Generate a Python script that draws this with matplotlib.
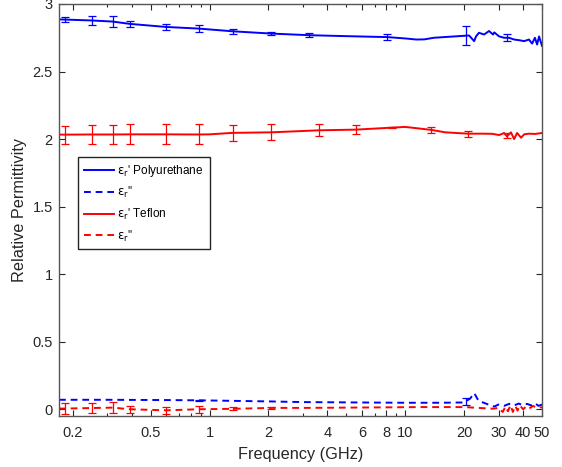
import matplotlib
matplotlib.use("Agg")
import matplotlib.pyplot as plt
from matplotlib.ticker import FixedLocator, NullFormatter

plt.rcParams['font.family'] = ['Liberation Sans', 'DejaVu Sans']
plt.rcParams['mathtext.fontset'] = 'dejavusans'

# ---- data: Polyurethane eps' ----
pu_f = [0.17, 0.18, 0.25, 0.32, 0.39, 0.6, 0.88, 1.31, 2.07, 3.24, 5.0, 8.1, 10.0, 11.4, 12.5,
        14.0, 17.0, 21.2, 22.5, 23.0, 23.8, 25.3, 26.8, 28.1, 28.5, 30.2, 32.0, 33.9, 36.0,
        38.2, 40.5, 42.9, 44.5, 46.0, 47.2, 48.3, 50.0]
pu_e1 = [2.886, 2.885, 2.878, 2.87, 2.853, 2.83, 2.818, 2.798, 2.781, 2.769, 2.762, 2.755, 2.745,
         2.737, 2.738, 2.75, 2.758, 2.767, 2.725, 2.76, 2.787, 2.774, 2.80, 2.774, 2.79, 2.76,
         2.75, 2.75, 2.737, 2.732, 2.725, 2.737, 2.707, 2.75, 2.70, 2.76, 2.69]
pu_err_f = [0.182, 0.25, 0.32, 0.39, 0.6, 0.88, 1.31, 2.07, 3.24, 8.1, 20.5, 33.1]
pu_err_y = [2.885, 2.878, 2.87, 2.853, 2.83, 2.818, 2.798, 2.781, 2.769, 2.755, 2.767, 2.75]
pu_err = [0.02, 0.03, 0.04, 0.022, 0.021, 0.027, 0.017, 0.014, 0.014, 0.02, 0.068, 0.027]

# ---- Polyurethane eps'' ----
pu_f2 = [0.17, 0.3, 0.6, 0.9, 2.0, 3.0, 6.0, 10.0, 15.0, 19.5, 20.5, 21.5, 22.5, 23.8, 25.0,
         26.8, 28.5, 30.0, 32.0, 34.0, 36.0, 38.0, 40.0, 42.0, 44.0, 46.0, 48.0, 50.0]
pu_e2 = [0.07, 0.07, 0.068, 0.066, 0.058, 0.053, 0.05, 0.048, 0.048, 0.05, 0.06, 0.08, 0.12,
         0.058, 0.05, 0.033, 0.02, 0.035, 0.025, 0.04, 0.028, 0.042, 0.03, 0.04, 0.028, 0.045,
         0.025, 0.035]
pu2_err_f = [0.88, 20.5]
pu2_err_y = [0.066, 0.06]
pu2_err = [0.006, 0.025]

# ---- Teflon eps' ----
tf_f = [0.17, 0.18, 0.25, 0.32, 0.39, 0.6, 0.88, 1.0, 1.31, 2.07, 3.64, 5.6, 8.6, 10.0,
        13.6, 16.0, 21.0, 25.0, 27.8, 30.2, 32.0, 33.1, 34.7, 36.0, 37.3, 39.1, 40.5, 42.9,
        46.0, 50.0]
tf_e1 = [2.033, 2.033, 2.034, 2.034, 2.035, 2.035, 2.034, 2.035, 2.046, 2.05, 2.065, 2.07,
         2.085, 2.09, 2.068, 2.05, 2.04, 2.04, 2.039, 2.03, 2.045, 2.02, 2.05, 2.0, 2.045,
         2.01, 2.035, 2.04, 2.038, 2.045]
tf_err_f = [0.182, 0.25, 0.32, 0.39, 0.6, 0.88, 1.31, 2.07, 3.64, 5.6, 8.6, 13.6, 21.0, 33.1]
tf_err_y = [2.033, 2.034, 2.034, 2.035, 2.035, 2.034, 2.046, 2.05, 2.065, 2.07, 2.085, 2.068,
            2.04, 2.025]
tf_err = [0.067, 0.07, 0.067, 0.074, 0.074, 0.074, 0.06, 0.058, 0.043, 0.033, 0.005, 0.023,
          0.021, 0.02]

# ---- Teflon eps'' ----
tf_f2 = [0.17, 0.18, 0.25, 0.32, 0.39, 0.6, 0.88, 1.31, 2.07, 3.0, 5.0, 8.0, 12.0, 20.0,
         25.0, 28.0, 30.0, 31.5, 32.5, 33.5, 34.5, 35.5, 36.5, 37.5, 38.5, 40.0, 41.5, 43.0,
         45.0, 47.0, 50.0]
tf_e2 = [0.005, 0.005, 0.009, 0.012, 0.0, -0.008, 0.0, 0.003, 0.01, 0.01, 0.012, 0.014, 0.016,
         0.016, 0.008, 0.004, 0.01, -0.02, 0.02, -0.015, 0.03, -0.02, 0.025, -0.01, 0.03,
         0.0, 0.02, 0.005, 0.025, 0.01, 0.015]
tf2_err_f = [0.182, 0.25, 0.32, 0.39, 0.6, 0.88, 1.31, 2.07]
tf2_err_y = [0.005, 0.009, 0.012, 0.0, -0.008, 0.0, 0.003, 0.01]
tf2_err = [0.04, 0.037, 0.04, 0.025, 0.025, 0.027, 0.01, 0.01]

xticks = [0.2, 0.5, 1, 2, 4, 6, 8, 10, 20, 30, 40, 50]
xticklabels = ['0.2', '0.5', '1', '2', '4', '6', '8', '10', '20', '30', '40', '50']
xminor = [0.3, 0.4, 0.6, 0.7, 0.8, 0.9, 3, 5, 7, 9]
yticks = [0, 0.5, 1, 1.5, 2, 2.5, 3]
yticklabels = ['0', '0.5', '1', '1.5', '2', '2.5', '3']

blue = '#0000ff'
red = '#ff0000'

fig = plt.figure(figsize=(5.62, 4.67), dpi=100)
ax = fig.add_axes([59/562, 51/467, 483/562, 412/467])
ax.set_xscale('log')

eps = "$\\mathrm{\\epsilon}_{\\mathrm{r}}$"
lw = 1.4
ax.plot(pu_f, pu_e1, color=blue, lw=lw, label=eps + "' Polyurethane")
ax.plot(pu_f2, pu_e2, color=blue, lw=lw, ls=(0, (3.5, 2.5)), label=eps + "''")
ax.plot(tf_f, tf_e1, color=red, lw=lw, label=eps + "' Teflon")
ax.plot(tf_f2, tf_e2, color=red, lw=lw, ls=(0, (3.5, 2.5)), label=eps + "''")

ekw = dict(fmt='none', elinewidth=0.9, capsize=2.8, capthick=0.9)
ax.errorbar(pu_err_f, pu_err_y, yerr=pu_err, ecolor=blue, **ekw)
ax.errorbar(pu2_err_f, pu2_err_y, yerr=pu2_err, ecolor=blue, **ekw)
ax.errorbar(tf_err_f, tf_err_y, yerr=tf_err, ecolor=red, **ekw)
ax.errorbar(tf2_err_f, tf2_err_y, yerr=tf2_err, ecolor=red, **ekw)

ax.set_xlim(0.17, 50)
ax.set_ylim(-0.05, 3)
ax.xaxis.set_major_locator(FixedLocator(xticks))
ax.set_xticklabels(xticklabels)
ax.xaxis.set_minor_locator(FixedLocator(xminor))
ax.xaxis.set_minor_formatter(NullFormatter())
ax.set_yticks(yticks)
ax.set_yticklabels(yticklabels)

tc = '#262626'
ax.tick_params(which='both', direction='in', top=True, right=True, colors=tc,
               labelsize=10.5, labelcolor=tc)
ax.tick_params(which='major', length=4, width=0.8)
ax.tick_params(axis='x', which='major', pad=7)
ax.tick_params(axis='y', which='major', pad=4.5)
ax.tick_params(which='minor', length=2.5, width=0.8)
for s in ax.spines.values():
    s.set_color('#555555')
    s.set_linewidth(1.0)

ax.set_xlabel('Frequency (GHz)', fontsize=11.7, color=tc, labelpad=5)
ax.set_ylabel('Relative Permittivity', fontsize=11.7, color=tc, labelpad=4)

leg = ax.legend(loc='upper left', bbox_to_anchor=(0.039, 0.629), borderaxespad=0,
                fontsize=8.5, handlelength=2.6, handletextpad=0.25, labelspacing=0.55,
                fancybox=False, framealpha=1, borderpad=0.5)
leg.get_frame().set_edgecolor('#262626')
leg.get_frame().set_linewidth(1.0)

fig.savefig('out.png', dpi=100)
